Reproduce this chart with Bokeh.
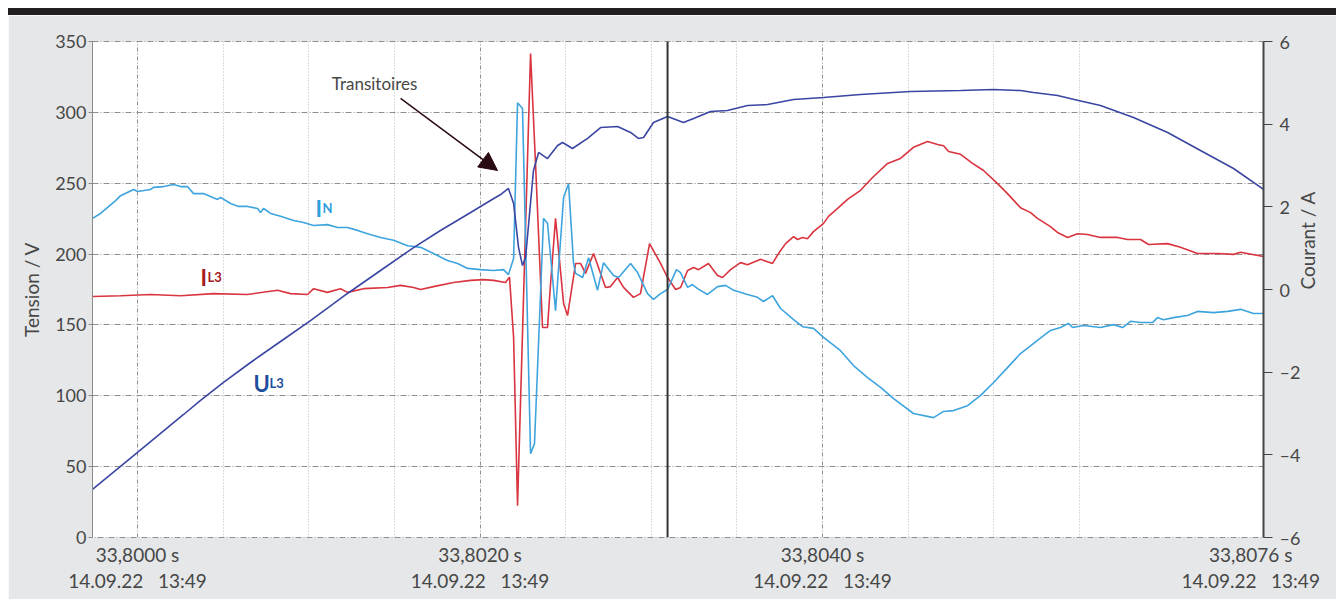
import math
from bokeh.plotting import figure
from bokeh.models import (Range1d, LinearAxis, FixedTicker, Grid, Span, Label,
                          Arrow, NormalHead, Div)
from bokeh.layouts import column
from bokeh.embed import file_html
from bokeh.resources import INLINE

# ---------------- data (time in µs after 33,8000 s) ----------------
u_t = [-26.3, 0.0, 26.9, 36.8, 50.2, 66.0, 83.5, 101.0, 122.6, 141.9, 161.2, 176.9,
       194.5, 206.1, 212.0, 216.6, 219.6, 222.5, 224.8, 226.6, 231.2, 234.2, 239.4,
       245.3, 248.2, 254.0, 262.8, 270.4, 280.3, 287.9, 292.5, 295.5, 301.3, 309.5,
       318.8, 324.7, 334.6, 344.5, 356.2, 367.9, 383.1, 400.6, 422.2, 451.4, 480.6,
       499.9, 515.6, 523.2, 537.2, 549.5, 562.3, 581.6, 601.5, 620.7, 640.0, 657.5]
u_v = [33.9, 60.0, 86.8, 96.7, 109.4, 123.5, 138.3, 153.1, 172.2, 188.4, 204.6, 216.6,
       229.3, 237.8, 242.0, 246.3, 235.7, 204.6, 191.9, 197.6, 259.0, 271.7, 267.4,
       276.6, 278.7, 274.5, 281.6, 289.3, 290.0, 285.8, 281.6, 282.3, 292.8, 297.1,
       292.8, 295.7, 300.6, 301.3, 304.8, 305.5, 309.1, 310.5, 312.6, 314.7, 315.4,
       316.1, 315.4, 314.0, 311.9, 308.4, 304.8, 296.4, 285.8, 273.1, 260.4, 245.6]

il3_t = [-26.3, -9.9, 7.6, 25.1, 44.4, 64.2, 81.8, 89.3, 99.3, 102.8, 110.9, 118.5,
         122.6, 132.0, 146.0, 153.6, 161.2, 165.3, 172.8, 184.5, 194.5, 202.0, 207.9,
         214.9, 217.2, 219.6, 221.9, 229.5, 232.4, 236.5, 239.4, 241.2, 244.1, 248.8,
         251.1, 255.8, 258.7, 261.6, 266.3, 273.3, 276.2, 280.3, 283.8, 289.6, 293.7,
         299.0, 305.4, 309.5, 314.2, 317.1, 321.2, 324.7, 327.6, 333.4, 338.7, 341.6,
         346.3, 352.1, 356.2, 363.8, 370.8, 374.3, 378.4, 383.1, 385.4, 388.3, 391.2,
         394.7, 400.6, 403.5, 409.3, 414.6, 422.2, 429.2, 438.0, 445.5, 453.1, 461.3,
         467.2, 470.7, 473.6, 480.6, 487.6, 494.0, 502.2, 508.0, 515.6, 521.5, 525.5,
         533.1, 537.2, 543.1, 548.9, 554.7, 562.3, 572.3, 578.1, 585.7, 590.4, 601.5,
         609.0, 619.0, 630.7, 640.0, 644.1, 657.5]
il3_a = [-0.17, -0.15, -0.12, -0.15, -0.10, -0.12, -0.02, -0.10, -0.12, 0.02, -0.07, 0.02,
         -0.07, 0.02, 0.05, 0.10, 0.05, 0.00, 0.07, 0.17, 0.22, 0.24, 0.22,
         0.17, 0.30, -1.16, -5.23, 5.71, 3.05, -0.92, -0.92, 0.15, 1.72, -0.34,
         -0.63, 0.63, 0.63, 0.39, 0.87, 0.05, 0.07, 0.29, 0.05, -0.19, -0.10,
         1.11, 0.63, 0.29, 0.00, 0.05, 0.46, 0.53, 0.48, 0.63, 0.34, 0.29,
         0.48, 0.65, 0.60, 0.73, 0.63, 0.87, 1.11, 1.28, 1.21, 1.26, 1.23,
         1.40, 1.60, 1.77, 1.98, 2.18, 2.40, 2.71, 3.05, 3.17, 3.44, 3.58,
         3.51, 3.48, 3.34, 3.27, 3.05, 2.88, 2.56, 2.32, 1.98, 1.86, 1.72,
         1.52, 1.38, 1.26, 1.35, 1.33, 1.26, 1.26, 1.21, 1.21, 1.09, 1.11,
         1.02, 0.87, 0.87, 0.85, 0.90, 0.80]

in_t = [-26.3, -21.6, -12.8, -9.9, -2.3, 0.0, 7.6, 9.3, 15.2, 21.0, 25.1, 29.2, 32.7,
        38.5, 46.7, 48.5, 54.3, 59.0, 64.2, 70.1, 71.8, 73.6, 77.7, 83.5, 91.1, 96.9,
        102.8, 110.9, 116.8, 122.6, 128.5, 134.3, 141.9, 149.5, 157.7, 165.3, 172.8,
        181.0, 186.9, 192.7, 200.3, 207.9, 213.7, 216.6, 219.6, 221.9, 224.8, 229.5,
        231.8, 237.1, 239.4, 244.1, 248.8, 251.7, 254.6, 255.8, 259.9, 263.4, 268.6,
        272.1, 278.0, 280.9, 287.9, 292.0, 297.8, 301.3, 305.4, 309.5, 314.7, 317.1,
        321.2, 324.1, 327.0, 332.8, 338.7, 343.4, 348.1, 356.2, 362.0, 365.5, 370.8,
        375.5, 383.1, 388.3, 394.7, 400.6, 410.5, 418.1, 426.3, 433.9, 441.5, 453.1,
        464.8, 470.7, 476.5, 484.7, 492.3, 499.9, 508.0, 515.6, 525.5, 533.1, 539.0,
        543.6, 546.0, 552.4, 562.3, 569.9, 575.2, 579.9, 585.7, 592.7, 595.6, 599.1,
        605.0, 613.1, 619.0, 628.3, 636.5, 644.1, 651.7, 657.5]
in_a = [1.72, 1.84, 2.15, 2.27, 2.42, 2.37, 2.42, 2.47, 2.49, 2.54, 2.49, 2.49, 2.32,
        2.32, 2.18, 2.23, 2.08, 2.01, 2.01, 1.96, 1.86, 1.96, 1.84, 1.77, 1.67, 1.62,
        1.55, 1.57, 1.50, 1.50, 1.43, 1.35, 1.26, 1.19, 1.06, 1.02, 0.87,
        0.70, 0.63, 0.51, 0.48, 0.46, 0.48, 0.36, 0.75, 4.52, 4.38, -3.97,
        -3.73, 1.72, 1.60, -0.51, 2.23, 2.56, 0.63, 0.39, 0.29, 0.77, -0.02,
        0.65, 0.34, 0.29, 0.63, 0.41, -0.10, -0.24, -0.10, 0.00, 0.48, 0.41,
        0.05, 0.12, 0.02, -0.12, 0.07, 0.10, -0.02, -0.12, -0.19, -0.29, -0.15,
        -0.46, -0.73, -0.90, -0.94, -1.16, -1.48, -1.84, -2.13, -2.37, -2.64, -3.00,
        -3.10, -2.95, -2.93, -2.81, -2.56, -2.25, -1.89, -1.55, -1.23, -0.99, -0.92,
        -0.82, -0.92, -0.87, -0.92, -0.85, -0.92, -0.77, -0.80, -0.80, -0.68, -0.73,
        -0.68, -0.63, -0.53, -0.56, -0.53, -0.48, -0.58, -0.58]

v_ticks = [0, 50, 100, 150, 200, 250, 300, 350]
a_ticks = [-6, -4, -2, 0, 2, 4, 6]
a_tick_labels = {-6: "\u20136", -4: "\u20134", -2: "\u20132", 0: "0", 2: "2", 4: "4", 6: "6"}
x_ticks = [0, 200, 400, 650]
x_tick_labels = {0: "33,8000 s", 200: "33,8020 s", 400: "33,8040 s", 650: "33,8076 s"}
date_label = "14.09.22\u00a0\u00a0\u00a013:49"
x_major_grid = [0, 200, 400]
x_minor_grid = [50, 100, 150, 250, 300, 350, 450, 500, 550]
cursor_t = 309.5

# ---------------- style ----------------
FONT = "Lato"
TXT = "#474747"
C_U = "#3a46a2"
C_IL3 = "#d9343f"
C_IN = "#3ea4de"

p = figure(width=1328, height=584, x_range=Range1d(-26.3, 657.5), y_range=Range1d(0, 350),
           output_backend="svg", toolbar_location=None,
           x_axis_location=None, y_axis_location=None,
           min_border_left=84, min_border_right=73, min_border_top=26, min_border_bottom=62)
p.extra_y_ranges = {"amp": Range1d(-6, 6)}
p.background_fill_color = "white"
p.border_fill_color = "#e6e7e9"
p.outline_line_color = "#8f8f8f"
p.outline_line_dash = "6 2 1 2"
p.center = [c for c in p.center if not isinstance(c, Grid)]

# grids
p.add_layout(Grid(dimension=0, ticker=FixedTicker(ticks=x_minor_grid),
                  grid_line_color="#b8b8b8", grid_line_dash="1 2", grid_line_width=1))
p.add_layout(Grid(dimension=0, ticker=FixedTicker(ticks=x_major_grid),
                  grid_line_color="#8f8f8f", grid_line_dash="4 2 1 2", grid_line_width=1))
p.add_layout(Grid(dimension=1, ticker=FixedTicker(ticks=v_ticks),
                  grid_line_color="#8f8f8f", grid_line_dash="6 2 1 2", grid_line_width=1))

def style_axis(ax, size="18px"):
    ax.major_label_text_font = FONT
    ax.major_label_text_font_size = size
    ax.major_label_text_color = TXT
    ax.axis_label_text_font = FONT
    ax.axis_label_text_font_size = "19px"
    ax.axis_label_text_font_style = "normal"
    ax.axis_label_text_color = TXT
    ax.minor_tick_line_color = None

yl = LinearAxis(ticker=FixedTicker(ticks=v_ticks), axis_label="Tension / V")
style_axis(yl)
yl.axis_line_color = "#8a8a8a"
yl.major_tick_line_color = "#8a8a8a"
yl.major_tick_in = 0
yl.major_tick_out = 4
yl.major_label_standoff = 2
yl.axis_label_standoff = 9
p.add_layout(yl, "left")

yr = LinearAxis(y_range_name="amp", ticker=FixedTicker(ticks=a_ticks),
                axis_label="Courant / A", major_label_overrides=a_tick_labels)
style_axis(yr)
yr.axis_line_color = "#444444"
yr.axis_line_width = 2
yr.major_tick_line_color = "#444444"
yr.major_tick_in = 0
yr.major_tick_out = 9
yr.major_label_standoff = 7
yr.axis_label_standoff = 4
yr.axis_label_orientation = math.pi / 2
p.add_layout(yr, "right")

xb1 = LinearAxis(ticker=FixedTicker(ticks=x_ticks), major_label_overrides=x_tick_labels)
style_axis(xb1, "19px")
xb1.axis_line_color = None
xb1.major_tick_line_color = None
xb1.major_tick_out = 0
xb1.major_tick_in = 0
xb1.major_label_standoff = 5
p.add_layout(xb1, "below")

xb2 = LinearAxis(ticker=FixedTicker(ticks=x_ticks),
                 major_label_overrides={t: date_label for t in x_ticks})
style_axis(xb2, "19px")
xb2.axis_line_color = None
xb2.major_tick_line_color = None
xb2.major_tick_out = 0
xb2.major_tick_in = 0
xb2.major_label_standoff = 0
p.add_layout(xb2, "below")

# series
p.line(il3_t, il3_a, y_range_name="amp", line_color=C_IL3, line_width=1.6)
p.line(in_t, in_a, y_range_name="amp", line_color=C_IN, line_width=1.6)
p.line(u_t, u_v, line_color=C_U, line_width=1.6)

p.add_layout(Span(location=cursor_t, dimension="height", line_color="#333333", line_width=2))

# annotations
p.add_layout(Label(x=138.4, y=320.4, text="Transitoires", text_font=FONT, text_font_size="17px",
                   text_color=TXT, text_align="center", text_baseline="middle"))
p.add_layout(Arrow(end=NormalHead(size=18, fill_color="#2a0b12", line_color="#2a0b12"),
                   x_start=153.6, y_start=309.8, x_end=210.2, y_end=259.0,
                   line_color="#2a0b12", line_width=1.5))

def sub_label(x, xs, y, main, sub, color):
    p.add_layout(Label(x=x, y=y, text=main, text_font=FONT, text_font_size="22px",
                       text_font_style="bold", text_color=color, text_baseline="alphabetic"))
    p.add_layout(Label(x=xs, y=y, text=sub, text_font=FONT, text_font_size="13px",
                       text_font_style="bold", text_color=color, text_baseline="alphabetic"))

sub_label(103.9, 108.0, 232.2, "I", "N", "#2e9fdb")
sub_label(36.8, 40.9, 183.5, "I", "L3", "#a61b22")
sub_label(67.7, 77.1, 108.7, "U", "L3", "#1f4f9e")

bar = Div(text="", width=1328, height=7, margin=0, styles={"background-color": "#231f20"})
layout = column(bar, p, spacing=0, margin=(8, 0, 0, 8))

open("out.html", "w").write(file_html(layout, INLINE))
